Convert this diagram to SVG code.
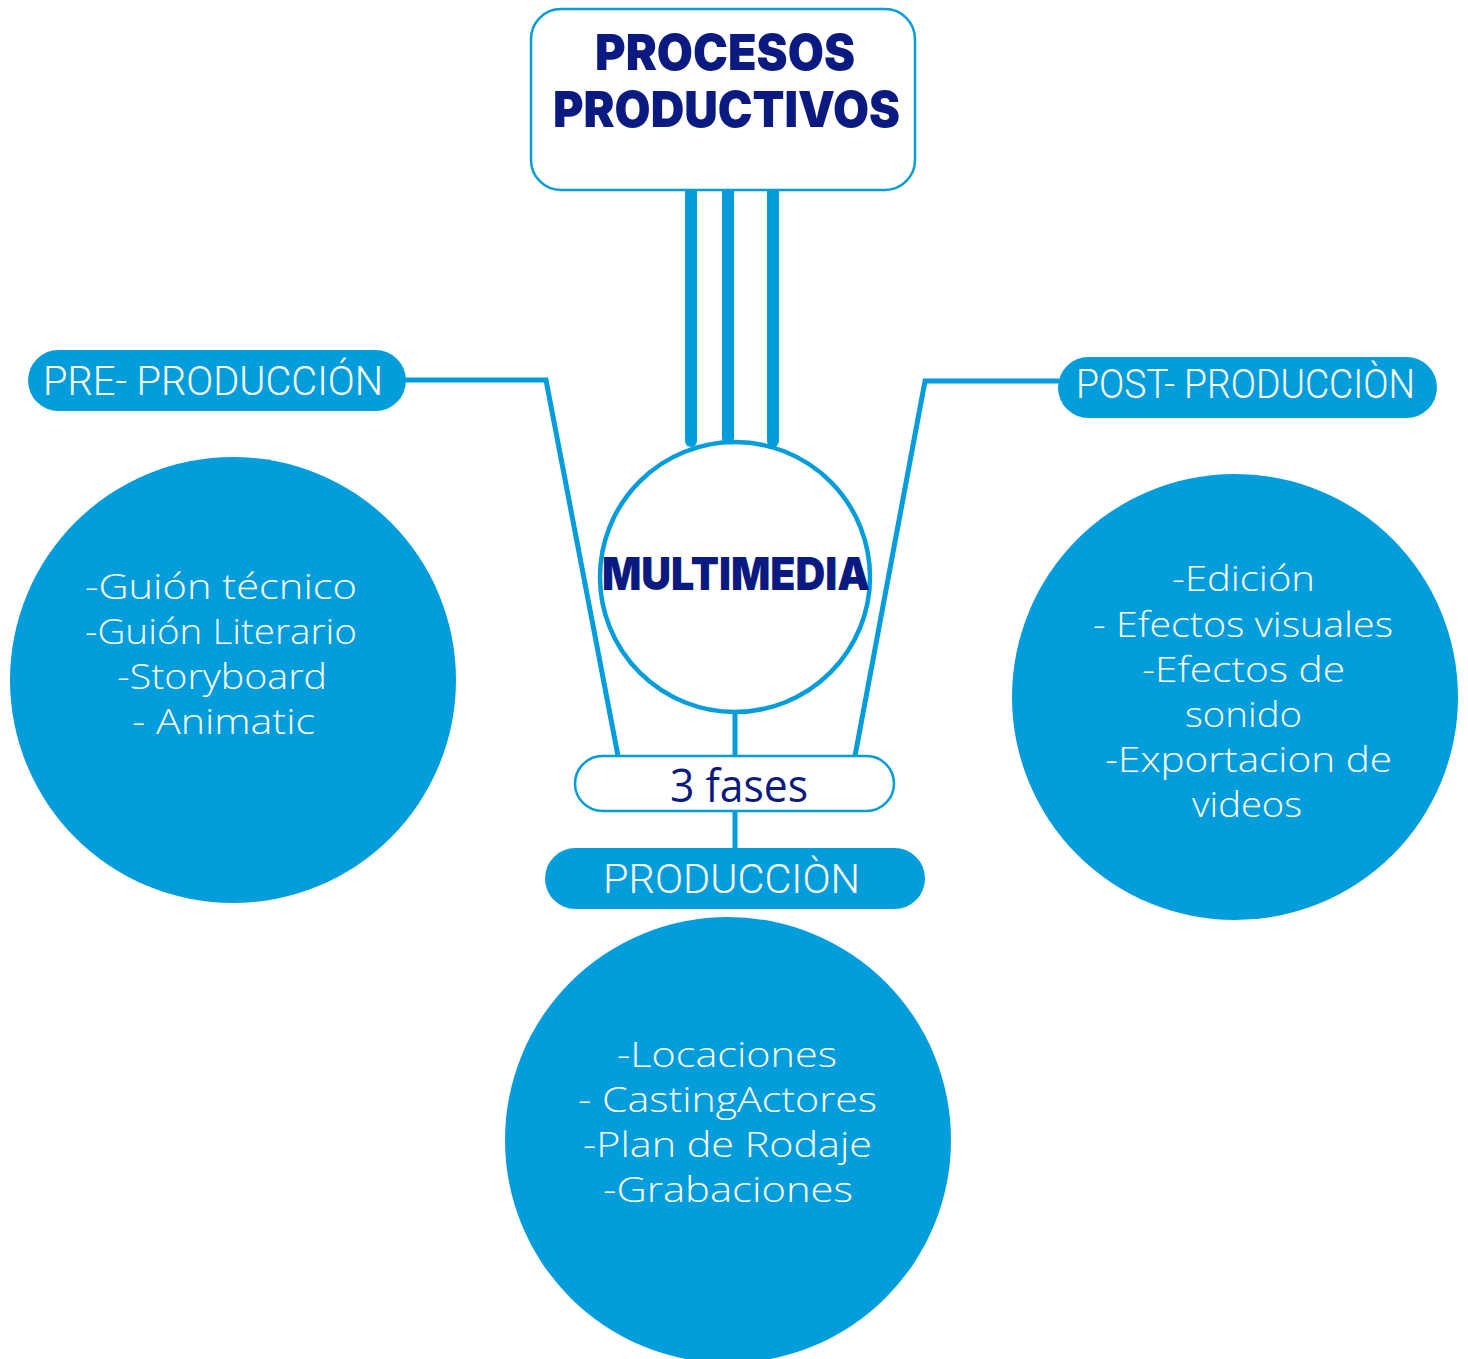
<svg xmlns="http://www.w3.org/2000/svg" width="1468" height="1359" viewBox="0 0 1468 1359">
<style>
.blue{fill:#039ddc}
.outline{fill:#fff;stroke:#039ddc;stroke-width:2.5}
.conn{fill:none;stroke:#039ddc;stroke-width:5;stroke-linejoin:miter;stroke-linecap:round}
.bar{stroke:#039ddc;stroke-width:12;stroke-linecap:round}
.title{font-family:Inter,Roboto,"Liberation Sans",sans-serif;font-weight:900;fill:#0b1a80}
.pill{font-family:Roboto,"Liberation Sans",sans-serif;font-weight:300;fill:#fff}
.body{font-family:"Open Sans","DejaVu Sans",sans-serif;font-weight:300;font-size:34px;fill:#fff;text-anchor:start}
</style>
<rect width="1468" height="1359" fill="#fff"/>
<g id="connectors">
  <line class="bar" x1="691" y1="192" x2="691" y2="441"/>
  <line class="bar" x1="728" y1="192" x2="728" y2="438"/>
  <line class="bar" x1="773" y1="192" x2="773" y2="441"/>
  <polyline class="conn" points="406,380 546,380 618,756"/>
  <polyline class="conn" points="1058,381 925,381 855,756"/>
  <line class="conn" x1="735" y1="714" x2="735" y2="757"/>
  <line class="conn" x1="735" y1="811" x2="735" y2="849"/>
</g>
<g id="procesos">
  <rect class="outline" x="531" y="9" width="384" height="181" rx="30"/>
  <text class="title" x="595" y="70" font-size="50" textLength="260" lengthAdjust="spacingAndGlyphs">PROCESOS</text>
  <text class="title" x="553" y="127" font-size="50" textLength="347" lengthAdjust="spacingAndGlyphs">PRODUCTIVOS</text>
</g>
<g id="multimedia">
  <circle cx="735" cy="577" r="135" fill="#fff" stroke="#039ddc" stroke-width="4.5"/>
  <text class="title" x="602" y="590" font-size="45" textLength="268" lengthAdjust="spacingAndGlyphs">MULTIMEDIA</text>
</g>
<g id="fases">
  <rect class="outline" x="575" y="756" width="319" height="55" rx="27.5"/>
  <text x="670" y="802" font-family="'Open Sans','Liberation Sans',sans-serif" font-size="46" fill="#0b1a80" textLength="138" lengthAdjust="spacingAndGlyphs">3 fases</text>
</g>
<g id="pre">
  <rect class="blue" x="28" y="350" width="378" height="61" rx="30.5"/>
  <text class="pill" x="43" y="395" font-size="41" textLength="340" lengthAdjust="spacingAndGlyphs">PRE- PRODUCCIÓN</text>
</g>
<g id="post">
  <rect class="blue" x="1058" y="357" width="379" height="61" rx="30.5"/>
  <text class="pill" x="1076" y="398" font-size="41" textLength="339" lengthAdjust="spacingAndGlyphs">POST- PRODUCCIÒN</text>
</g>
<g id="produccion">
  <rect class="blue" x="545" y="848" width="380" height="61" rx="30.5"/>
  <text class="pill" x="603" y="893" font-size="41" textLength="257" lengthAdjust="spacingAndGlyphs">PRODUCCIÒN</text>
</g>
<g id="pre-circle">
  <circle class="blue" cx="233" cy="680" r="223"/>
  <text class="body" x="85" y="599" textLength="272" lengthAdjust="spacingAndGlyphs">-Guión técnico</text>
  <text class="body" x="85" y="644" textLength="272" lengthAdjust="spacingAndGlyphs">-Guión Literario</text>
  <text class="body" x="117" y="689" textLength="210" lengthAdjust="spacingAndGlyphs">-Storyboard</text>
  <text class="body" x="132" y="734" textLength="183" lengthAdjust="spacingAndGlyphs">- Animatic</text>
</g>
<g id="post-circle">
  <circle class="blue" cx="1235" cy="697" r="223"/>
  <text class="body" x="1172" y="591" textLength="143" lengthAdjust="spacingAndGlyphs">-Edición</text>
  <text class="body" x="1093" y="637" textLength="300" lengthAdjust="spacingAndGlyphs">- Efectos visuales</text>
  <text class="body" x="1142" y="682" textLength="203" lengthAdjust="spacingAndGlyphs">-Efectos de</text>
  <text class="body" x="1185" y="727" textLength="117" lengthAdjust="spacingAndGlyphs">sonido</text>
  <text class="body" x="1105" y="772" textLength="287" lengthAdjust="spacingAndGlyphs">-Exportacion de</text>
  <text class="body" x="1192" y="817" textLength="110" lengthAdjust="spacingAndGlyphs">videos</text>
</g>
<g id="produccion-circle">
  <circle class="blue" cx="728" cy="1140" r="223"/>
  <text class="body" x="617" y="1067" textLength="220" lengthAdjust="spacingAndGlyphs">-Locaciones</text>
  <text class="body" x="578" y="1112" textLength="299" lengthAdjust="spacingAndGlyphs">- CastingActores</text>
  <text class="body" x="583" y="1157" textLength="289" lengthAdjust="spacingAndGlyphs">-Plan de Rodaje</text>
  <text class="body" x="603" y="1202" textLength="250" lengthAdjust="spacingAndGlyphs">-Grabaciones</text>
</g>
</svg>
